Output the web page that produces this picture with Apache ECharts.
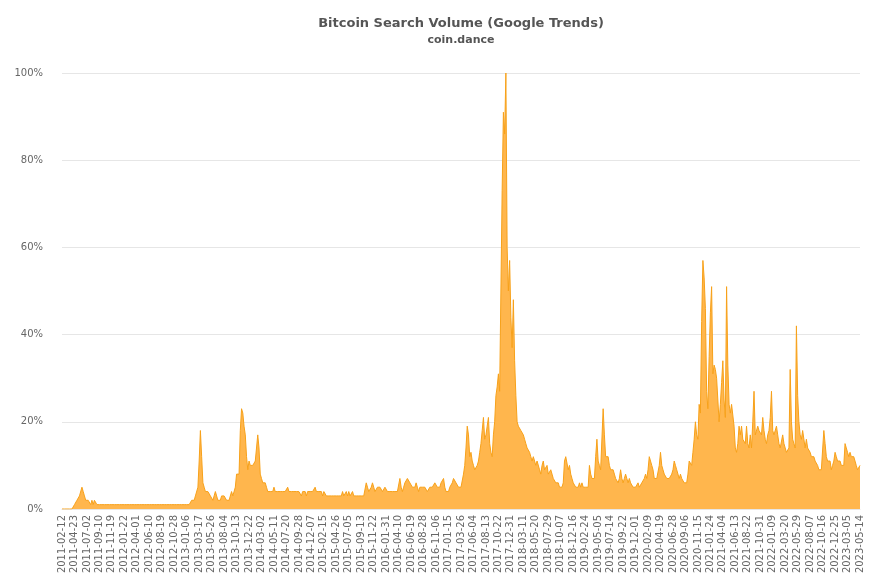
<!DOCTYPE html>
<html><head><meta charset="utf-8">
<script src="https://cdn.jsdelivr.net/npm/echarts@6/dist/echarts.min.js"></script>
<style>html,body{margin:0;padding:0;background:#fff}#c{width:877px;height:585px}</style>
</head><body><div id="c"></div>
<script>
const titleText = 'Bitcoin Search Volume (Google Trends)';
const subtitleText = 'coin.dance';
const yTickValues = [0, 20, 40, 60, 80, 100];

// Weekly search volume (0-100)
const volume2011 = [
  0,0,0,0,0,0,0,0,0,0,
  1,1,2,2,3,3,5,4,3,2,2,2,2,1,2,1,2,2,1
];
const volumeFlat = [
  1,1,1,1,1,1,1,1,1,1,1,1,1,1,1,1,1,1,1,1,1,1,1,1,1,
  1,1,1,1,1,1,1,1,1,1,1,1,1,1,1,1,1,1,1,1,1,1,1,1,1,
  1,1,1,1,1,1,1,1,1,1,1,1,1,1,1,1,1,1,1,1,1,1,1,1,1
];
const volume2013 = [
  2,2,2,3,3,5,11,18,12,6,
  5,4,4,4,4,3,3,2,3,4,
  3,2,2,2,3,3,3,3,2,2,
  2,2,4,3,3,5,8,8,8,18,
  23,22,19,17,12,9,11,10,10,10,
  10,11,11,17,14,8,7,6,6,6,
  5,4
];
const volume2014 = [
  4,4,4,4,5,4,4,4,4,4,
  4,4,4,4,4,5,4,4,4,4,
  4,4,4,4,4,4,3,4,4,4,
  3,4,4,4,4,4,4,5,4,4,
  4,4,4,3,4,4,3,3,3,3,
  3,3,3,3,3,3,3,3
];
const volume2015 = [
  3,4,3,3,4,3,4,3,3,4,
  3,3,3,3,3,3,3,3,3,3,
  6,5,4,4,5,6,5,4,4,5,
  5,5,5,4,4,5,5,4,4,4,
  4,4,4,4,4,4,4,7,5,4,
  5,6,6,7,7,6,6,5,5,5,
  6,5,4,5,5,5,5,5,5,4,
  4,5,5,5,5,6,6,5,5,5,
  6,6,7,5,4,4,4,5,5,6,
  7,7,6,6,5,5,5,5
];
const volume2017 = [
  8,10,14,19,17,12,13,11,10,9,
  9,10,11,13,15,18,21,16,17,19,
  21,15,13,12,17,20,26,28,31,27,
  50,73,91,86,100,60,50,57,44,37,
  48,34,26,20,19,19
];
const volume2018 = [
  18,18,17,16,15,14,14,13,12,11,
  12,11,10,11,11,9,8,10,11,9,
  9,10,8,8,9,8,7,7,6,6,
  6,5,5,5,6,11,12,12,9,10,
  8,7,6,6,5,5,5,6,5,6,
  5,5,5,5,5,10,8,7,7,7,
  12,16,11,10,9,9,23,17,12,12,
  12,10,9,9,9,8,7,7,6,7,
  9,7,6,7,8,7,6,7,6,6,
  5,5,5,5,6,5,5,6,6,7,
  8,7,9,12,11,10,9,7,7,7,
  7,10,13,10,9,8,8,7,7,7,
  7,8,9,11,10,9,8,7,8,7,
  7,6,6,6,8
];
const volume2021 = [
  11,11,10,13,16,20,17,16,24,22,
  43,57,53,46,27,23,35,45,51,31,
  33,32,30,25,20,24,29,34,25,21,
  51,33,24,22,24,24,19,14,13,15,
  19,17,19,16,16,15,19,15,14,17,
  14,20,27,17,17,19,18,18,17,21,
  18,16,15,17,18,21,27,18,17,17,
  19,17,15,14,14,17,15,14,13,13,
  14,32,20,16,15,14,42,26,20,17,
  16,18,16,14,16,14,14,13,12,12,
  12,11,11,10,9,9,9,9,18,15,
  12,11,11,11,9,10,11,13,12,11,
  11,11,10,10,10,15,14,13,12,13,
  12,12,12,11,10,9,9,10
];

const volume = [].concat(volume2011, volumeFlat, volume2013, volume2014,
  volume2015, volume2017, volume2018, volume2021);

// Week labels: Saturdays through 2011-12-31, Sundays from 2012-01-01
function buildWeeks(n) {
  const out = [];
  let d = Date.UTC(2011, 1, 12);
  const switchAt = Date.UTC(2011, 11, 31);
  for (let i = 0; i < n; i++) {
    out.push(new Date(d).toISOString().slice(0, 10));
    d = (d === switchAt) ? Date.UTC(2012, 0, 1) : d + 7 * 864e5;
  }
  return out;
}
const weeks = buildWeeks(volume.length);

const chart = echarts.init(document.getElementById('c'), null, {renderer: 'canvas'});
chart.setOption({
  animation: false,
  backgroundColor: '#ffffff',
  title: {
    text: titleText,
    subtext: subtitleText,
    left: 456,
    textAlign: 'center',
    top: 12,
    itemGap: 5,
    textStyle: {fontSize: 13, fontWeight: 'bold', color: '#555555', fontFamily: 'DejaVu Sans'},
    subtextStyle: {fontSize: 11, fontWeight: 'bold', color: '#555555', fontFamily: 'DejaVu Sans'}
  },
  grid: {left: 62, right: 17, top: 73, bottom: 76},
  xAxis: {
    type: 'category',
    data: weeks,
    boundaryGap: false,
    axisLine: {lineStyle: {color: '#e6e6e6'}},
    axisTick: {show: false},
    axisLabel: {rotate: 90, interval: 9, fontSize: 10, color: '#666666', margin: 6, fontFamily: 'DejaVu Sans'},
    splitLine: {show: false}
  },
  yAxis: {
    type: 'value',
    min: yTickValues[0],
    max: yTickValues[yTickValues.length - 1],
    interval: 20,
    axisLine: {show: false},
    axisTick: {show: false},
    axisLabel: {formatter: '{value}%', color: '#666666', fontSize: 10, margin: 19, fontFamily: 'DejaVu Sans'},
    splitLine: {lineStyle: {color: '#e6e6e6'}}
  },
  series: [{
    type: 'line',
    data: volume,
    symbol: 'none',
    lineStyle: {color: '#f7a11a', width: 1},
    areaStyle: {color: '#ffb64d', opacity: 1}
  }]
});
</script>
</body></html>
